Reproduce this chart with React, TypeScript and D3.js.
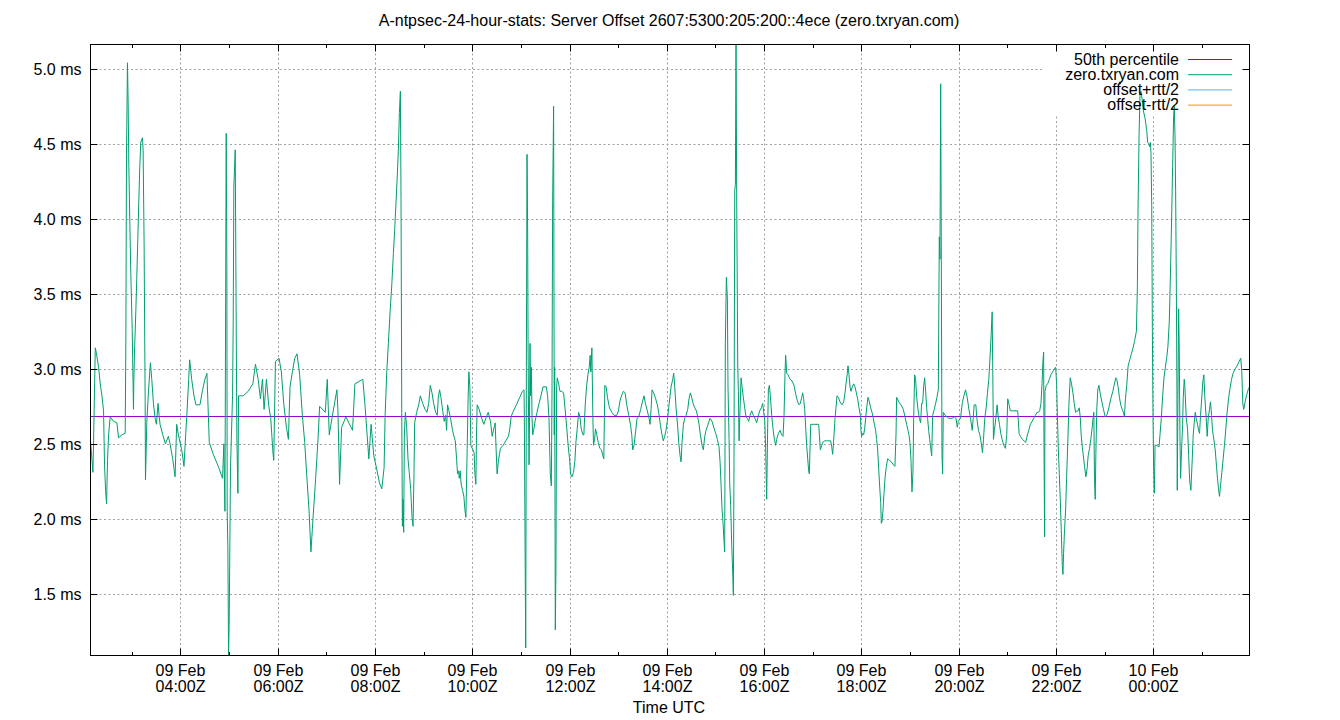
import React from "react";
import * as d3 from "d3";

const TITLE = "A-ntpsec-24-hour-stats: Server Offset 2607:5300:205:200::4ece (zero.txryan.com)";
const X_LABEL = "Time UTC";
const BASE_UTC = Date.UTC(2025, 1, 9, 0, 0, 0);
const percentile50 = 2.682;
const legendLabels = ["50th percentile", "zero.txryan.com", "offset+rtt/2", "offset-rtt/2"];
const legendColors = ["#9400d3", "#009e73", "#56b4e9", "#e69f00"];
const yTicks = [1.5, 2.0, 2.5, 3.0, 3.5, 4.0, 4.5, 5.0];

// [minutes after 09 Feb 00:00 UTC, offset in ms]
const offsetSamples: [number, number][] = [
[129.2,2.52],[132.2,2.31],[133.0,2.52],[135.1,3.14],[136.3,3.11],[139.2,3.01],[141.2,2.90],[143.3,2.82],[145.3,2.72],[146.5,2.36],[147.8,2.19],[149.0,2.10],[150.2,2.39],[151.5,2.56],[153.5,2.68],[157.6,2.65],[161.7,2.64],[163.8,2.54],[167.9,2.56],[172.0,2.57],[172.8,3.18],[173.6,4.43],[174.8,5.04],[175.6,4.79],[176.5,4.35],[177.7,3.98],[178.9,3.64],[180.6,3.27],[182.2,2.73],[182.6,2.90],[183.4,3.10],[185.1,3.38],[186.3,3.61],[187.5,3.86],[188.8,4.12],[190.0,4.35],[191.2,4.51],[193.3,4.54],[194.1,4.46],[195.3,3.85],[196.6,2.79],[197.0,2.26],[197.8,2.43],[198.6,2.64],[200.7,2.85],[203.1,3.04],[204.8,2.93],[206.8,2.77],[208.9,2.67],[210.5,2.63],[212.5,2.77],[213.8,2.69],[215.0,2.63],[218.3,2.56],[221.6,2.50],[225.3,2.55],[227.3,2.50],[230.6,2.40],[233.5,2.28],[235.5,2.63],[237.6,2.56],[241.7,2.46],[244.5,2.35],[246.6,2.56],[248.2,2.71],[250.3,2.93],[251.5,3.06],[254.0,2.93],[256.8,2.82],[259.3,2.76],[264.2,2.76],[267.1,2.85],[270.3,2.93],[272.8,2.97],[275.7,2.51],[280.6,2.43],[286.8,2.35],[292.1,2.27],[293.7,2.50],[295.0,2.05],[295.8,3.30],[296.6,4.57],[297.4,3.68],[297.8,2.05],[298.6,1.81],[299.5,1.089],[300.3,1.34],[301.9,2.35],[304.4,2.82],[305.2,3.30],[306.0,4.21],[307.7,4.46],[309.7,2.55],[311.0,2.17],[311.8,2.82],[317.5,2.82],[323.7,2.85],[329.4,2.90],[332.7,3.03],[336.0,2.93],[338.8,2.80],[341.3,2.93],[343.3,2.73],[346.2,2.93],[349.1,2.75],[351.5,2.67],[354.4,2.43],[355.2,2.39],[357.3,3.05],[361.8,3.07],[364.6,2.98],[367.5,2.77],[370.8,2.61],[373.3,2.53],[375.3,2.88],[378.2,2.98],[381.1,3.07],[383.9,3.10],[387.2,2.96],[390.5,2.69],[393.4,2.51],[395.8,2.30],[398.7,2.06],[401.1,1.78],[403.6,2.00],[406.9,2.27],[409.8,2.53],[411.8,2.75],[418.8,2.71],[421.2,2.93],[423.7,2.56],[427.0,2.67],[433.1,2.86],[434.4,2.72],[436.4,2.23],[438.9,2.61],[444.2,2.68],[452.4,2.59],[455.3,2.90],[465.1,2.93],[468.0,2.74],[472.5,2.40],[475.3,2.63],[478.6,2.42],[481.5,2.35],[485.6,2.24],[488.5,2.20],
[491.3,2.34],[492.6,2.69],[494.6,2.98],[496.6,3.17],[498.7,3.38],[500.8,3.56],[502.8,3.77],[504.4,3.93],[506.1,4.12],[507.7,4.30],[509.0,4.47],[510.2,4.71],[511.4,4.85],[512.2,4.13],[513.1,2.71],[513.9,1.95],[514.7,2.13],[515.5,1.91],[516.3,2.56],[517.6,2.71],[519.2,2.61],[520.8,2.40],[522.5,2.30],[524.1,2.20],[525.8,2.01],[527.0,1.95],[528.2,2.30],[529.0,2.64],[531.5,2.71],[534.0,2.76],[536.0,2.82],[538.9,2.77],[541.8,2.73],[544.2,2.71],[546.3,2.77],[548.3,2.89],[550.4,2.84],[552.4,2.77],[554.9,2.71],[556.9,2.69],[558.2,2.81],[559.8,2.86],[561.4,2.81],[563.1,2.74],[565.5,2.65],[567.2,2.69],[568.4,2.59],[569.6,2.76],[571.3,2.72],[573.3,2.67],[575.4,2.60],[577.0,2.56],[579.1,2.52],[580.7,2.40],[581.9,2.30],[583.2,2.32],[584.0,2.27],[585.2,2.32],[586.4,2.23],[588.1,2.19],[589.7,2.15],[591.0,2.06],[592.2,2.01],[593.8,2.47],[595.0,2.82],[595.9,2.98],[597.1,2.88],[598.3,2.49],[602.4,2.44],[603.3,2.30],[604.5,2.23],[605.3,2.56],[606.1,2.76],[608.6,2.73],[611.0,2.68],[614.3,2.63],[616.8,2.67],[619.7,2.71],[622.5,2.65],[624.6,2.55],[626.6,2.60],[628.3,2.64],[629.5,2.46],[630.7,2.30],[632.4,2.39],[634.8,2.47],[638.1,2.49],[641.4,2.52],[644.7,2.55],[646.3,2.60],[648.0,2.68],[650.0,2.71],[654.5,2.76],[658.6,2.81],[661.9,2.85],[663.9,2.86],[664.3,2.67],[665.2,1.81],[666.0,1.14],[666.8,3.01],[667.6,4.43],[668.4,3.90],[668.9,3.17],[669.3,2.82],[670.1,2.36],[670.5,2.56],[671.3,3.17],[672.1,2.82],[673.0,3.01],[673.8,2.67],[674.6,2.56],[675.8,2.59],[677.5,2.65],[679.9,2.71],[682.4,2.77],[684.8,2.82],[687.3,2.88],[689.8,2.88],[691.4,2.88],[693.0,2.82],[694.7,2.67],[696.3,2.30],[697.6,2.22],[698.4,2.82],[699.2,4.12],[700.4,4.75],[701.2,2.56],[701.7,3.01],[702.5,1.26],[703.3,1.69],[704.1,2.88],[704.9,2.94],[706.6,2.90],[708.2,2.85],[710.3,2.85],[712.7,2.84],[714.8,2.72],[716.8,2.59],[718.5,2.48],[720.1,2.40],[721.3,2.30],[723.0,2.28],[725.0,2.31],[726.7,2.39],[727.9,2.51],[729.5,2.60],[731.2,2.71],[732.8,2.68],[734.5,2.60],[736.5,2.56],[737.7,2.56],[739.4,2.76],[741.0,2.88],[742.7,2.96],[744.3,3.01],[745.5,3.09],[746.3,2.98],[747.6,3.14],[748.8,2.68],[749.6,2.49],[750.9,2.53],[752.1,2.60],[753.7,2.56],[755.4,2.51],[757.4,2.47],[759.5,2.46],[761.1,2.42],[762.3,2.40],[763.6,2.89],[765.2,2.88],[766.8,2.81],[769.3,2.74],[772.2,2.71],[775.0,2.69],[778.3,2.69],[780.4,2.72],[782.0,2.78],[784.1,2.82],[786.5,2.85],[788.6,2.84],[790.6,2.76],[793.1,2.69],[795.1,2.63],[796.8,2.56],[798.0,2.46],[799.6,2.49],[801.7,2.59],[803.3,2.67],[805.4,2.68],[807.8,2.73],[809.9,2.78],[811.9,2.82],[813.6,2.77],[816.0,2.72],[818.1,2.67],[819.3,2.63],[820.6,2.73],[821.8,2.86],[823.8,2.84],[826.3,2.80],[828.3,2.76],[830.0,2.71],[832.0,2.63],[834.1,2.56],[835.7,2.52],[837.4,2.55],[839.0,2.59],[840.6,2.65],[842.3,2.74],
[845.3,2.88],[847.3,2.93],[848.5,2.97],[849.8,2.88],[851.4,2.74],[853.5,2.61],[854.7,2.51],[856.4,2.42],[857.6,2.38],[858.8,2.51],[860.5,2.63],[862.1,2.67],[863.8,2.69],[865.8,2.73],[867.4,2.80],[869.1,2.84],[870.7,2.81],[872.4,2.77],[874.4,2.74],[876.5,2.72],[878.1,2.68],[879.8,2.63],[881.4,2.56],[883.5,2.49],[885.1,2.46],[886.8,2.55],[888.4,2.59],[890.9,2.63],[893.3,2.67],[895.8,2.65],[897.9,2.61],[900.3,2.57],[902.4,2.53],[904.4,2.48],[905.7,2.38],[906.9,2.23],[908.1,2.07],[909.4,1.97],[910.6,1.85],[911.4,1.78],[912.2,3.17],[913.5,3.61],[914.7,3.47],[915.5,2.88],[916.8,2.53],[917.6,2.24],[918.8,2.09],[920.1,1.82],[921.3,1.64],[922.1,1.49],[922.9,2.39],[923.8,4.19],[924.6,4.23],[925.4,5.162],[926.2,4.17],[927.5,3.02],[928.3,2.85],[929.1,2.52],[930.3,2.72],[931.6,2.94],[932.8,2.88],[934.4,2.81],[936.1,2.74],[937.7,2.68],[939.4,2.67],[941.0,2.65],[942.7,2.69],[944.7,2.72],[946.8,2.69],[948.8,2.67],[950.9,2.64],[952.5,2.68],[954.6,2.72],[956.6,2.74],[958.3,2.77],[959.5,2.71],[960.7,2.67],[962.0,2.46],[963.2,2.13],[964.4,2.61],[965.3,2.86],[966.5,2.89],[967.7,2.82],[969.4,2.69],[971.0,2.60],[972.7,2.53],[974.3,2.49],[975.5,2.53],[977.6,2.57],[979.7,2.59],[981.7,2.56],[983.4,2.55],[984.6,2.69],[985.8,2.97],[986.6,3.09],[987.9,2.97],[989.5,2.96],[992.0,2.93],[994.4,2.92],[996.9,2.89],[999.4,2.82],[1001.4,2.78],[1003.1,2.76],[1004.7,2.77],[1006.4,2.81],[1007.6,2.84],[1008.8,2.80],[1010.1,2.73],[1011.3,2.61],[1012.5,2.49],[1013.8,2.40],[1015.0,2.32],[1015.8,2.30],[1016.6,2.46],[1017.5,2.63],[1022.4,2.63],[1027.3,2.63],[1028.2,2.56],[1029.4,2.46],[1030.6,2.48],[1032.3,2.51],[1034.7,2.52],[1038.4,2.52],[1042.1,2.52],[1043.4,2.48],[1044.6,2.43],[1045.8,2.52],[1047.5,2.67],[1048.7,2.74],[1049.9,2.82],[1051.6,2.81],[1053.6,2.78],[1056.1,2.76],[1058.2,2.78],[1059.8,2.84],[1061.0,2.90],[1062.7,2.97],[1063.5,3.02],[1064.7,2.96],[1066.0,2.88],[1067.2,2.85],[1068.8,2.88],[1070.5,2.90],[1072.1,2.88],[1073.8,2.84],[1075.4,2.80],[1077.1,2.74],[1078.7,2.69],[1079.5,2.59],[1080.3,2.55],[1081.6,2.57],[1082.8,2.56],[1084.0,2.60],[1085.3,2.67],[1086.5,2.74],[1088.2,2.81],[1089.8,2.78],[1091.4,2.74],[1093.1,2.71],[1094.7,2.67],[1096.0,2.63],[1097.6,2.59],[1098.8,2.53],[1100.1,2.46],[1101.3,2.34],[1102.5,2.22],[1103.8,2.11],[1104.6,1.97],[1105.4,1.98],[1106.7,2.06],[1107.9,2.17],[1109.1,2.27],[1110.8,2.35],[1112.4,2.40],[1114.5,2.39],[1116.9,2.38],[1119.4,2.36],[1121.4,2.35],[1122.7,2.56],[1123.5,2.81],[1126.0,2.78],[1128.8,2.76],[1131.7,2.73],[1133.8,2.68],[1135.8,2.63],[1137.5,2.59],[1138.7,2.56],[1139.9,2.51],[1141.2,2.39],[1142.4,2.18],[1143.6,2.31],[1144.5,2.67],[1145.7,2.96],[1146.9,2.93],[1148.2,2.81],[1149.8,2.73],[1151.5,2.67],[1153.1,2.64],[1154.3,2.77],[1155.6,2.77],[1156.8,2.88],[1158.0,2.94],[1159.3,2.85],[1160.5,2.74],[1161.7,2.67],[1163.0,2.59],[1164.2,2.53],[1165.4,2.48],[1166.7,2.42],[1167.9,2.69],[1169.9,2.73],[1171.6,2.77],[1173.2,2.81],[1174.9,2.86],[1176.1,3.88],[1176.9,3.73],[1177.8,4.90],[1178.6,3.73],[1179.4,2.43],[1180.2,2.30],[1181.0,2.71],[1183.5,2.69],[1185.6,2.68],[1187.6,2.67],[1189.7,2.67],[1191.7,2.67],[1194.6,2.68],[1196.7,2.67],[1198.3,2.61],[1199.5,2.65],
[1202.3,2.67],[1204.4,2.77],[1206.4,2.82],[1208.5,2.86],[1210.5,2.81],[1212.6,2.73],[1214.6,2.67],[1216.7,2.59],[1217.9,2.67],[1219.1,2.76],[1221.2,2.76],[1222.4,2.67],[1224.4,2.59],[1226.1,2.56],[1227.7,2.51],[1229.4,2.44],[1230.6,2.53],[1232.2,2.67],[1233.9,2.74],[1235.5,2.84],[1237.2,2.93],[1238.4,3.05],[1240.0,3.22],[1241.3,3.38],[1242.1,2.96],[1242.9,2.53],[1244.1,2.59],[1245.8,2.67],[1247.4,2.76],[1248.6,2.69],[1250.3,2.63],[1251.9,2.57],[1253.6,2.53],[1255.6,2.49],[1257.7,2.47],[1259.3,2.56],[1260.5,2.80],[1262.2,2.76],[1263.8,2.72],[1267.9,2.72],[1272.8,2.72],[1274.5,2.57],[1276.1,2.55],[1278.6,2.53],[1280.6,2.52],[1282.7,2.51],[1284.3,2.55],[1286.4,2.59],[1288.4,2.63],[1290.5,2.65],[1292.5,2.67],[1294.6,2.69],[1296.6,2.71],[1298.2,2.71],[1299.9,2.72],[1301.5,2.77],[1302.8,2.90],[1304.0,3.06],[1304.8,3.11],[1305.2,2.51],[1306.0,1.88],[1306.4,2.85],[1308.1,2.89],[1309.7,2.90],[1311.8,2.93],[1313.8,2.96],[1315.9,2.98],[1317.9,3.00],[1319.6,3.01],[1320.8,2.90],[1321.6,2.72],[1322.8,2.48],[1324.1,2.30],[1325.3,2.13],[1326.5,1.93],[1327.8,1.69],[1328.6,1.63],[1329.4,1.77],[1330.6,1.93],[1331.9,2.06],[1333.1,2.27],[1334.7,2.53],[1336.0,2.77],[1337.6,2.94],[1339.2,2.90],[1340.9,2.84],[1342.5,2.77],[1344.2,2.71],[1345.8,2.72],[1347.4,2.72],[1348.7,2.74],[1349.9,2.68],[1351.1,2.56],[1352.4,2.48],[1353.6,2.43],[1355.2,2.35],[1356.9,2.28],[1358.5,2.34],[1359.7,2.42],[1361.4,2.47],[1363.0,2.53],[1364.7,2.61],[1365.9,2.68],[1366.7,2.71],[1367.5,2.27],[1368.4,2.13],[1369.2,2.43],[1370.4,2.74],[1371.6,2.86],[1372.9,2.89],[1374.5,2.84],[1376.6,2.78],[1378.6,2.73],[1380.7,2.68],[1382.7,2.69],[1385.2,2.74],[1387.6,2.80],[1390.1,2.85],[1392.1,2.90],[1393.8,2.94],[1395.0,2.93],[1396.6,2.88],[1398.3,2.81],[1399.9,2.76],[1401.6,2.73],[1403.2,2.71],[1404.4,2.68],[1405.7,2.80],[1407.3,2.89],[1409.0,3.02],[1411.0,3.06],[1413.0,3.10],[1415.1,3.14],[1417.1,3.19],[1419.2,3.25],[1420.4,3.54],[1421.2,4.06],[1422.5,4.56],[1423.7,4.83],[1424.9,4.85],[1426.2,4.80],[1427.8,4.72],[1429.9,4.67],[1431.9,4.59],[1433.1,4.51],[1434.4,4.50],[1435.6,4.48],[1436.4,4.51],[1437.2,4.44],[1438.1,4.09],[1438.9,3.26],[1439.7,2.67],[1440.5,2.34],[1441.3,2.17],[1442.2,2.49],[1444.2,2.49],[1447.1,2.48],[1448.3,2.56],[1449.9,2.67],[1451.6,2.82],[1453.2,2.94],[1454.9,3.01],[1456.5,3.07],[1458.1,3.15],[1459.8,3.32],[1461.0,3.59],[1462.2,3.88],[1463.9,4.35],[1465.1,4.68],[1465.9,4.75],[1466.8,4.56],[1467.6,4.19],[1468.4,3.61],[1469.2,2.86],[1469.6,2.19],[1470.4,2.80],[1471.3,3.40],[1472.1,3.11],[1472.9,2.56],[1473.7,2.27],[1474.9,2.46],[1476.2,2.63],[1477.0,2.81],[1478.2,2.93],[1479.0,2.88],[1480.7,2.67],[1482.3,2.60],[1483.6,2.43],[1484.8,2.26],[1486.4,2.19],[1488.1,2.40],[1489.3,2.56],[1490.5,2.64],[1491.8,2.71],[1493.0,2.67],[1494.6,2.63],[1495.9,2.59],[1497.1,2.57],[1498.3,2.69],[1500.0,2.82],[1501.2,2.92],[1502.4,2.96],[1503.7,2.80],[1505.3,2.67],[1506.5,2.55],[1507.8,2.67],[1509.4,2.73],[1510.6,2.78],[1511.9,2.69],[1513.1,2.59],[1514.7,2.53],[1516.4,2.46],[1518.0,2.35],[1519.2,2.27],[1520.5,2.20],[1521.7,2.15],[1522.9,2.22],[1524.6,2.31],[1526.2,2.40],[1527.8,2.49],[1529.5,2.60],[1531.1,2.71],[1532.8,2.80],[1534.4,2.86],[1536.5,2.93],[1538.5,2.97],[1541.0,3.00],[1543.4,3.02],[1545.9,3.05],[1547.9,3.07],[1549.2,2.98],[1550.4,2.77],[1551.6,2.73],[1553.3,2.78],[1554.9,2.82],[1557.0,2.86],[1558.7,2.88]
];

const FONT = "'Liberation Sans', Arial, sans-serif";
const FS = 16;

export default function App() {
  const W = 1340, H = 720;
  const left = 90.5, right = 1249.5, top = 44.5, bottom = 655.5;
  const data = offsetSamples.map(([m, v]) => ({ t: new Date(BASE_UTC + m * 60000), v }));
  const x = d3.scaleUtc().domain(d3.extent(data, (d) => d.t) as [Date, Date]).range([left, right]);
  const y = d3.scaleLinear().domain(d3.extent(data, (d) => d.v) as [number, number]).range([bottom, top]);
  const [t0, t1] = x.domain();
  const major = d3.utcHour.every(2)!.range(t0, t1);
  const minor = d3.utcHour.range(t0, t1).filter((d) => d.getUTCHours() % 2 === 1);
  const fmtDay = d3.utcFormat("%d %b");
  const fmtTime = d3.utcFormat("%H:%MZ");
  const line = d3.line<{ t: Date; v: number }>().x((d) => x(d.t)).y((d) => y(d.v));
  const gridStyle = { stroke: "#a0a0a0", strokeWidth: 1, strokeDasharray: "2,2.5" };
  const majLen = 7, minLen = 3.5;
  const legendX = 1179, legendY0 = 59.5, legendDy = 15.2;

  return (
    <svg width={W} height={H} style={{ position: "absolute", left: 0, top: 0, background: "#fff" }} fontFamily={FONT} fontSize={FS}>
      <rect x={0} y={0} width={W} height={H} fill="#fff" />
      {yTicks.map((v) => (
        <line key={"gy" + v} x1={left} x2={right} y1={Math.round(y(v)) + 0.5} y2={Math.round(y(v)) + 0.5} {...gridStyle} />
      ))}
      {major.map((d) => (
        <line key={"gx" + d.getTime()} x1={Math.round(x(d)) + 0.5} x2={Math.round(x(d)) + 0.5} y1={top} y2={bottom} {...gridStyle} />
      ))}
      <rect x={1043} y={top} width={right - 1043} height={114 - top} fill="#fff" />
      <line x1={left} x2={right} y1={y(percentile50)} y2={y(percentile50)} stroke={legendColors[0]} strokeWidth={1} />
      <path d={line(data) || ""} fill="none" stroke={legendColors[1]} strokeWidth={1} />
      {yTicks.map((v) => {
        const yy = Math.round(y(v)) + 0.5;
        return (
          <g key={"ty" + v}>
            <line x1={left} x2={left + majLen} y1={yy} y2={yy} stroke="#000" />
            <line x1={right} x2={right - majLen} y1={yy} y2={yy} stroke="#000" />
            <text x={81.5} y={yy + 5.2} textAnchor="end" fill="#000">{v.toFixed(1) + " ms"}</text>
          </g>
        );
      })}
      {major.map((d) => {
        const xx = Math.round(x(d)) + 0.5;
        return (
          <g key={"tx" + d.getTime()}>
            <line x1={xx} x2={xx} y1={bottom} y2={bottom - majLen} stroke="#000" />
            <line x1={xx} x2={xx} y1={top} y2={top + majLen} stroke="#000" />
            <text x={xx} y={675.5} textAnchor="middle" fill="#000">{fmtDay(d)}</text>
            <text x={xx} y={691.5} textAnchor="middle" fill="#000">{fmtTime(d)}</text>
          </g>
        );
      })}
      {minor.map((d) => {
        const xx = Math.round(x(d)) + 0.5;
        return (
          <g key={"mx" + d.getTime()}>
            <line x1={xx} x2={xx} y1={bottom} y2={bottom - minLen} stroke="#000" />
            <line x1={xx} x2={xx} y1={top} y2={top + minLen} stroke="#000" />
          </g>
        );
      })}
      <rect x={left} y={top} width={right - left} height={bottom - top} fill="none" stroke="#000" strokeWidth={1} />
      {legendLabels.map((lab, i) => {
        const yy = legendY0 + i * legendDy;
        return (
          <g key={lab}>
            <text x={legendX} y={yy + 5.2} textAnchor="end" fill="#000">{lab}</text>
            <line x1={1188} x2={1232} y1={yy} y2={yy} stroke={legendColors[i]} strokeWidth={1} />
          </g>
        );
      })}
      <text x={669} y={26} textAnchor="middle" fill="#000">{TITLE}</text>
      <text x={669} y={713} textAnchor="middle" fill="#000">{X_LABEL}</text>
    </svg>
  );
}
